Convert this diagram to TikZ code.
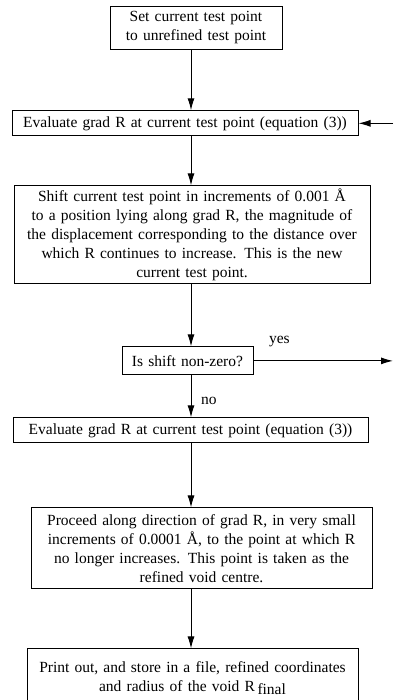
\documentclass[tikz,border=0pt]{standalone}
\usepackage{fontspec}
\setmainfont{Liberation Serif}
\usepackage{tikz}
\usetikzlibrary{arrows.meta,positioning}

\begin{document}
\begin{tikzpicture}[
    x=1pt, y=-1pt,
    box/.style={rectangle, draw, line width=1pt, inner xsep=3pt, inner ysep=5.5pt, align=center, font=\fontsize{15.5}{19}\selectfont},
    arrow/.style={-{Latex[length=12pt,width=7pt]}, line width=1pt},
    label/.style={font=\fontsize{15.5}{17}\selectfont}
  ]
  \useasboundingbox (0,0) rectangle (393,700);
  \coordinate (axis) at (191,0);
  \coordinate (edge) at (393,0);

  % Start
  \node[box, text width=166pt] (set) at (196,28) {Set current test point\\to unrefined test point};

  % Gradient and shift loop
  \node[box, text width=340pt, minimum height=24pt, below=60pt of set, xshift=-11pt] (evalA) {Evaluate grad R at current test point (equation (3))};
  \node[box, text width=350pt, inner ysep=3pt, below=49pt of evalA, xshift=7pt] (shift) {Shift current test point in increments of 0.001 Å\\to a position lying along grad R, the magnitude of\\the displacement corresponding to the distance over\\which R continues to increase. This is the new\\current test point.};
  \node[box, text width=125pt, minimum height=28pt, below=62pt of shift, xshift=-4.5pt] (nonzero) {Is shift non-zero?};
  \node[label, above right=-4pt and 12pt of nonzero] {yes};

  % Refinement
  \node[box, text width=349pt, minimum height=25pt, below=42pt of nonzero, xshift=3pt] (evalB) {Evaluate grad R at current test point (equation (3))};
  \node[label, below right=18pt and 10pt of nonzero.south] {no};
  \node[box, text width=335pt, minimum height=81pt, below=64pt of evalB, xshift=11pt] (proceed) {Proceed along direction of grad R, in very small\\increments of 0.0001 Å, to the point at which R\\no longer increases. This point is taken as the\\refined void centre.};

  % Output
  \node[box, text width=325pt, minimum height=58pt, below=59pt of proceed, xshift=-9pt] (print) {Print out, and store in a file, refined coordinates\\and radius of the void R\,\raisebox{-0.5ex}{final}};

  % Arrows
  \draw[arrow] (set.south -| axis) -- (evalA.north -| axis);
  \draw[arrow] (evalA.south -| axis) -- (shift.north -| axis);
  \draw[arrow] (shift.south -| axis) -- (nonzero.north -| axis);
  \draw[arrow] (nonzero.south -| axis) -- (evalB.north -| axis);
  \draw[arrow] (evalB.south -| axis) -- (proceed.north -| axis);
  \draw[arrow] (proceed.south -| axis) -- (print.north -| axis);
  \draw[arrow] (nonzero.east) -- (nonzero.east -| edge);
  \draw[arrow] (evalA.east -| edge) -- (evalA.east);
\end{tikzpicture}
\end{document}
